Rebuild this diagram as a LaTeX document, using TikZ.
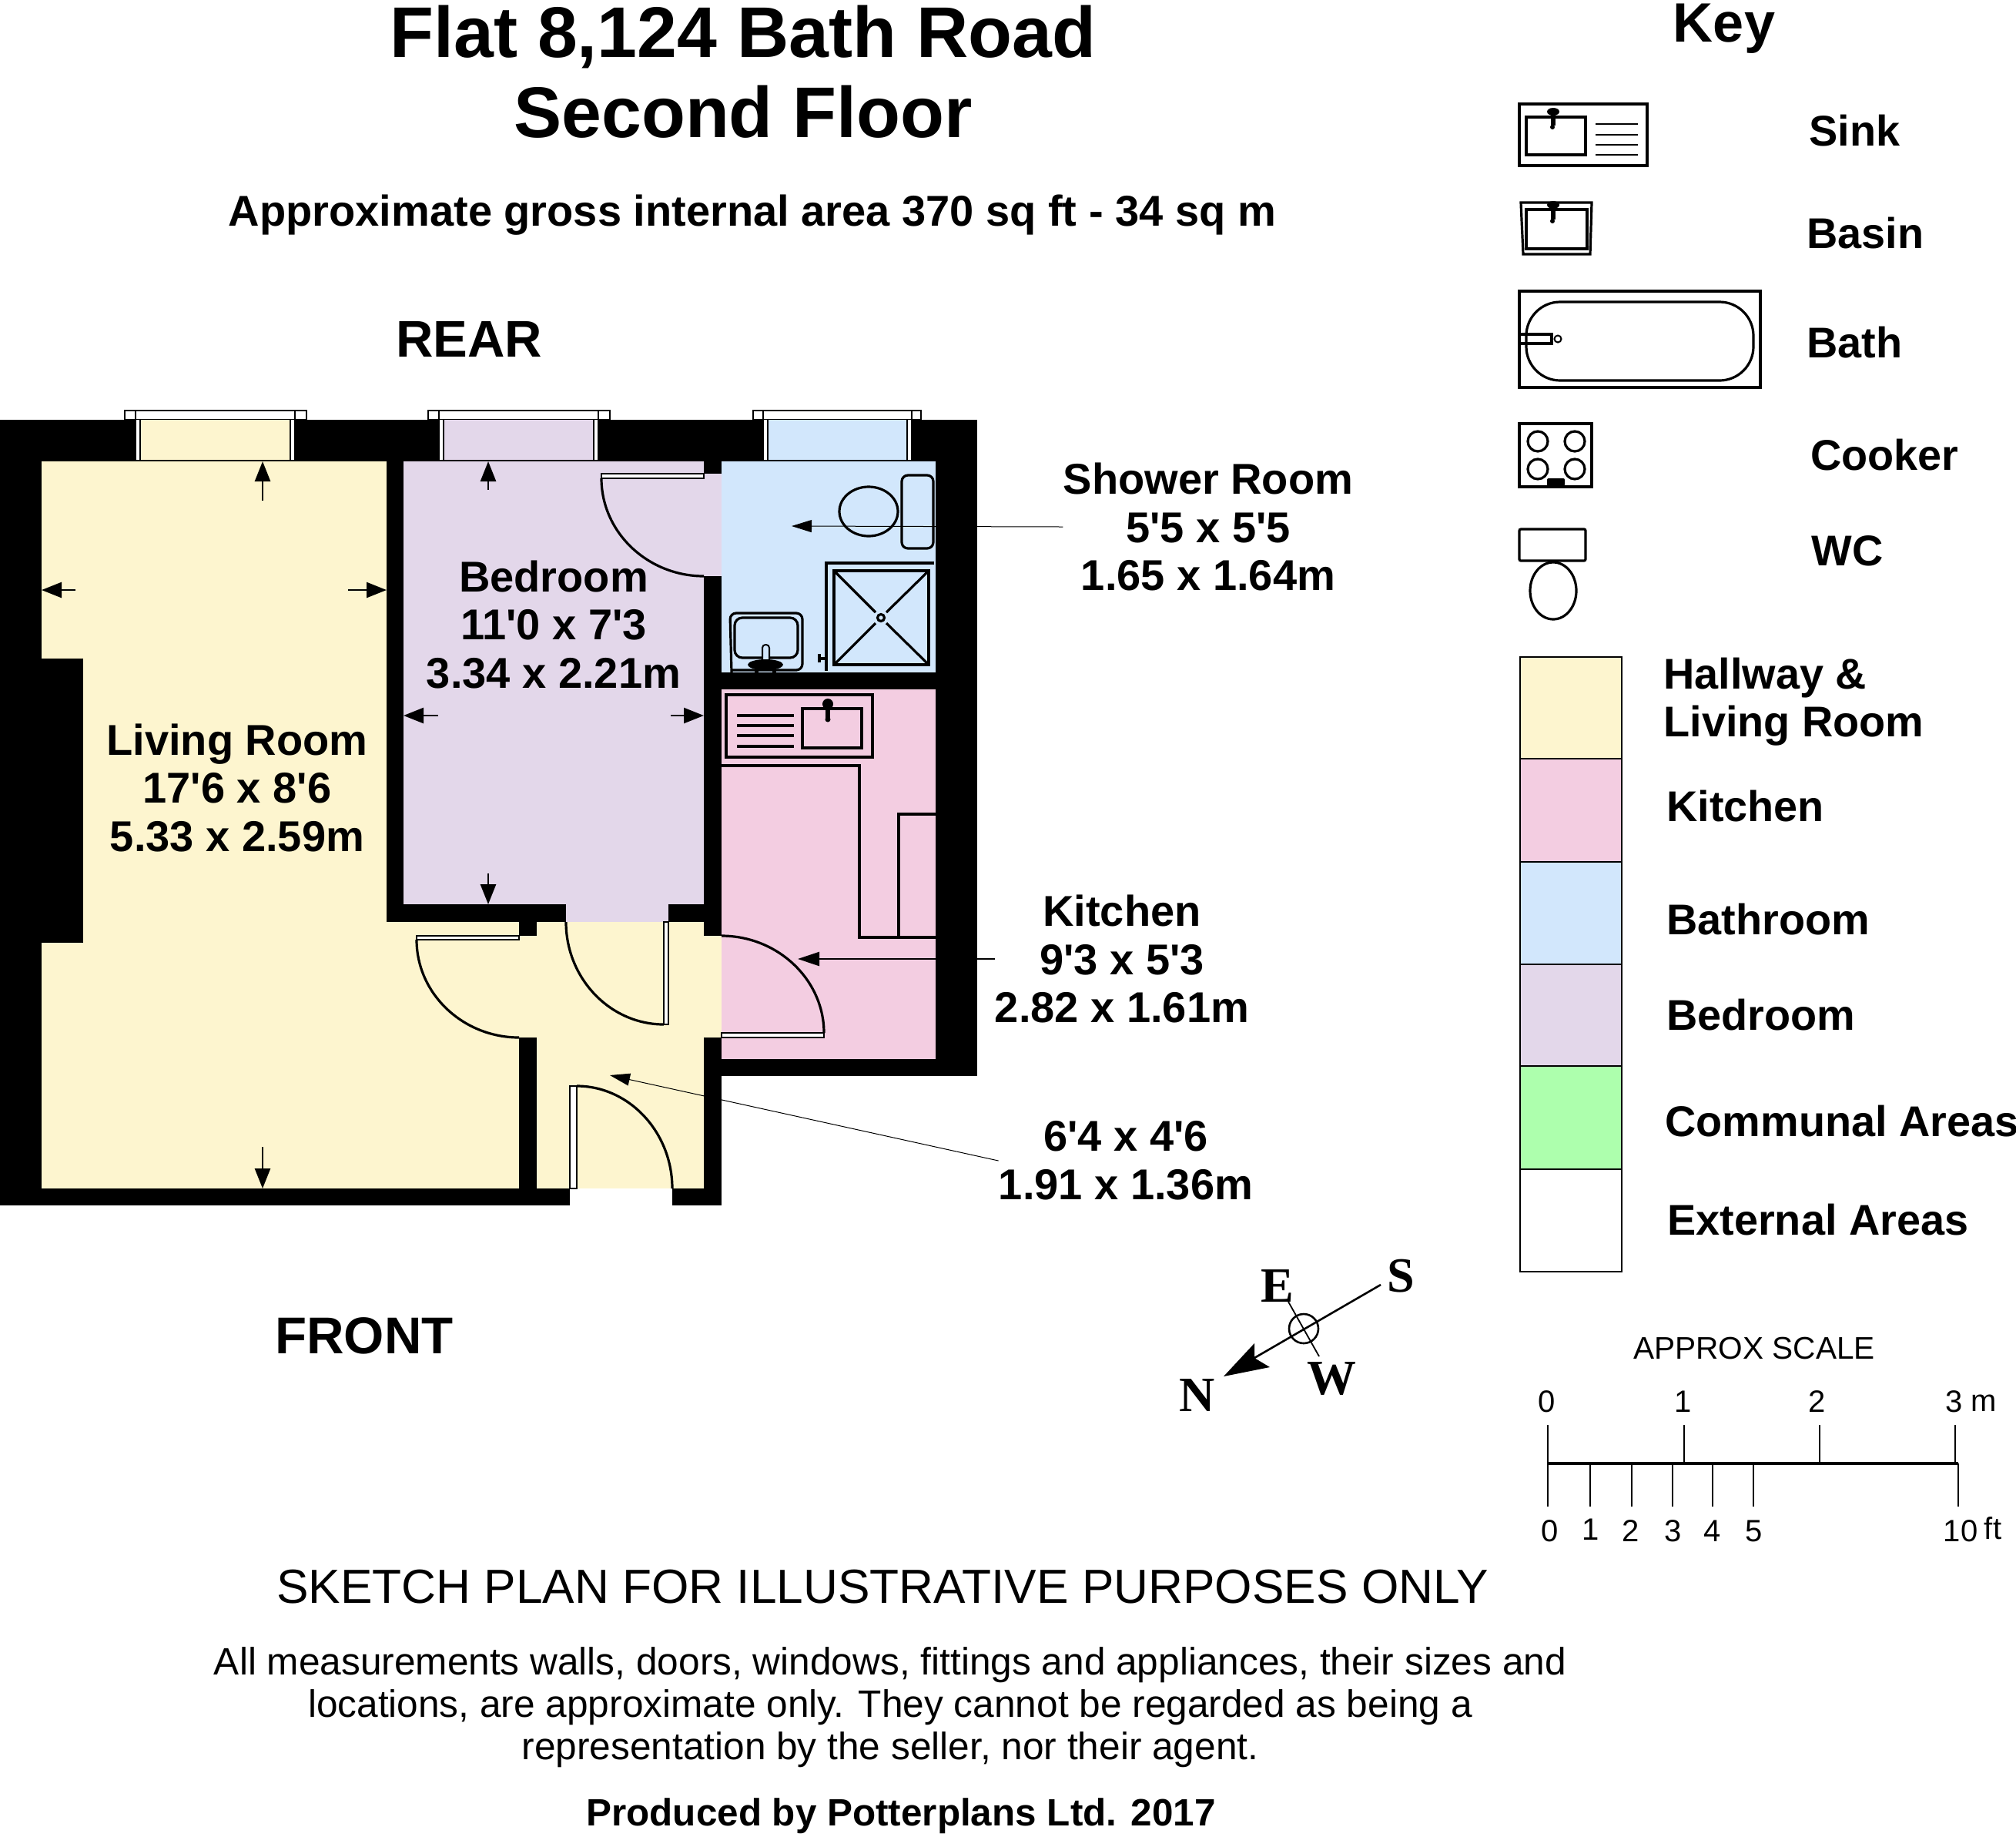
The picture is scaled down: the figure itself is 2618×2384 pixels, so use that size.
\documentclass[tikz,border=0pt]{standalone}
\usepackage{fontspec}
\usetikzlibrary{arrows.meta}
\newfontfamily\hv{Liberation Sans}
\newfontfamily\tm{Liberation Serif}
\newcommand\fz[2]{\hv\fontsize{#1}{#2}\selectfont}
\definecolor{cyellow}{HTML}{FDF5CF}
\definecolor{cpink}{HTML}{F3CDE1}
\definecolor{cblue}{HTML}{D2E7FC}
\definecolor{cpurple}{HTML}{E3D7EA}
\definecolor{cgreen}{HTML}{ADFFAD}
\newcommand\winfig[5]{%
  \fill[white] (#1,533) rectangle (#4,545);
  \draw[fit2] (#1,533) rectangle (#4,545);
  \fill[white] (#2,545) rectangle (#3,597);
  \fill[#5] (#2+6,545) rectangle (#3-6,597);
  \draw[fit2] (#2,533) -- (#2,597) (#2+6,545) -- (#2+6,597) (#3,533) -- (#3,597) (#3-6,545) -- (#3-6,597);
  \draw[fit2] (#2-4,598) -- (#3+4,598);
}
\begin{document}
\begin{tikzpicture}[x=0.5pt,y=-0.5pt,
  wall/.style={fill=black},
  fit2/.style={draw=black,line width=1pt},
  fit3/.style={draw=black,line width=1.6pt},
  door/.style={draw=black,line width=1.6pt},
  leaf/.style={draw=black,fill=white,line width=1.1pt},
  dimarrow/.style={draw=black,line width=1.3pt,-{Triangle[length=13pt,width=10pt]}},
  callthin/.style={draw=black,line width=0.5pt,-{Triangle[length=13pt,width=8pt]}},
  callthick/.style={draw=black,line width=1.3pt,-{Triangle[length=14pt,width=9pt]}},
  roomlabel/.style={font=\fz{28}{31.3}\bfseries,align=center,inner sep=0pt},
  keylabel/.style={font=\fz{27.9}{31.3}\bfseries,align=left,inner sep=0pt,anchor=west},
  swatch/.style={draw=black,line width=1.3pt},
  scalenum/.style={font=\fz{20}{24},inner sep=0pt},
  compass/.style={font=\tm\fontsize{32}{36}\selectfont\bfseries,inner sep=0pt},
  scaleline/.style={draw=black,line width=1.3pt}]
\useasboundingbox (0,0) rectangle (2618,2384);
% ---- floors
\fill[cyellow] (54,599) rectangle (914,1543);
\fill[cyellow] (914,1197) rectangle (937,1347);
\fill[cpurple] (524,599) rectangle (914,1174);
\fill[cpurple] (735,1174) rectangle (868,1197);
\fill[cpurple] (914,615) rectangle (937,748);
\fill[cblue] (937,599) rectangle (1215,873);
\fill[cpink] (937,895) rectangle (1215,1375);
% ---- walls
\fill[wall] (0,545) rectangle (1269,599);
\fill[wall] (0,545) rectangle (54,1565);
\fill[wall] (54,855) rectangle (108,1224);
\fill[wall] (0,1543) rectangle (740,1565);
\fill[wall] (873,1543) rectangle (937,1565);
\fill[wall] (502,599) rectangle (524,1197);
\fill[wall] (502,1174) rectangle (735,1197);
\fill[wall] (868,1174) rectangle (937,1197);
\fill[wall] (674,1197) rectangle (697,1215);
\fill[wall] (914,1197) rectangle (937,1215);
\fill[wall] (914,599) rectangle (937,615);
\fill[wall] (914,748) rectangle (937,1215);
\fill[wall] (937,873) rectangle (1215,895);
\fill[wall] (1215,545) rectangle (1269,1397);
\fill[wall] (914,1375) rectangle (1269,1397);
\fill[wall] (914,1347) rectangle (937,1565);
\fill[wall] (674,1347) rectangle (697,1543);
% ---- windows
\winfig{162}{176}{383}{398}{cyellow}
\winfig{556}{570}{777}{792}{cpurple}
\winfig{978}{991}{1184}{1196}{cblue}
% ---- doors
\draw[leaf] (781,615) rectangle (914,621);
\draw[door] (781,621) .. controls (781,691) and (841,748) .. (914,748);
\draw[leaf] (541,1215) rectangle (674,1220);
\draw[door] (541,1220) .. controls (541,1290) and (601,1347) .. (674,1347);
\draw[leaf] (862,1197) rectangle (868,1330);
\draw[door] (735,1197) .. controls (735,1270) and (792,1330) .. (862,1330);
\draw[leaf] (937,1341) rectangle (1070,1347);
\draw[door] (937,1215) .. controls (1010,1215) and (1070,1272) .. (1070,1341);
\draw[leaf] (740,1410) rectangle (749,1543);
\draw[door] (749,1410) .. controls (817,1410) and (873,1470) .. (873,1543);
% ---- dimension arrows
\coordinate (la1) at (341,650); \coordinate (la2) at (341,599);
\coordinate (lb1) at (98,766);  \coordinate (lb2) at (54,766);
\coordinate (lc1) at (452,766); \coordinate (lc2) at (502,766);
\coordinate (ld1) at (341,1489);\coordinate (ld2) at (341,1543);
\coordinate (ba1) at (634,636); \coordinate (ba2) at (634,599);
\coordinate (bb1) at (569,929); \coordinate (bb2) at (524,929);
\coordinate (bc1) at (871,929); \coordinate (bc2) at (914,929);
\coordinate (bd1) at (634,1134);\coordinate (bd2) at (634,1174);
\foreach \a/\b in {la1/la2,lb1/lb2,lc1/lc2,ld1/ld2,ba1/ba2,bb1/bb2,bc1/bc2,bd1/bd2}
  \draw[dimarrow] (\a) -- (\b);
% ---- shower room fittings
\draw[fit3,rounded corners=4pt] (1171,617) rectangle (1212,712);
\draw[fit3] (1128,664) ellipse [x radius=38,y radius=32];
\draw[fit3] (1073,871) -- (1073,731) -- (1213,731);
\draw[fit3] (1083,741) rectangle (1206,863);
\draw[fit3] (1144,802) circle (4.5);
\draw[fit3] (1083,741) -- (1137,795) (1206,741) -- (1151,795) (1083,863) -- (1137,809) (1206,863) -- (1151,809);
\draw[fit3] (1073,855) -- (1064,855) (1064,849) -- (1064,860);
\draw[fit3,rounded corners=4pt] (950,873) -- (948,796) -- (1042,796) -- (1042,870) -- (950,870);
\draw[fit3,rounded corners=5pt] (954,802) rectangle (1036,854);
\draw[fit2,fill=cblue,rounded corners=2pt] (990,860) -- (990,837) -- (999,837) -- (999,860);
\fill[black] (994,863) ellipse [x radius=23,y radius=7];
\fill[black] (980,863) rectangle (985,875);
\fill[black] (1003,863) rectangle (1008,875);
% ---- kitchen fittings
\draw[fit3] (943,902) rectangle (1133,983);
\draw[fit3] (1042,920) rectangle (1119,971);
\foreach \y in {929,942,955,969} \draw[fit3] (957,\y) -- (1031,\y);
\fill[black] (1075,914) circle (7);
\fill[black] (1072,914) rectangle (1078,932);
\fill[black] (1075,934) circle (3.5);
\draw[fit3] (937,994) -- (1116,994) -- (1116,1217) -- (1215,1217);
\draw[fit3] (1215,1057) -- (1167,1057) -- (1167,1217);
% ---- key symbols
\draw[fit3] (1973,135) rectangle (2139,215);
\draw[fit3] (1982,152) rectangle (2059,201);
\foreach \y in {161,175,188,201} \draw[fit2] (2072,\y) -- (2127,\y);
\fill[black] (2017,145) ellipse [x radius=8,y radius=5];
\fill[black] (2014,145) rectangle (2020,163);
\fill[black] (2016,165) circle (3);
\draw[fit3] (1978,330) -- (1975,263) -- (2067,263) -- (2065,330) -- cycle;
\draw[fit3] (1982,272) rectangle (2061,323);
\fill[black] (2017,266) ellipse [x radius=8,y radius=5];
\fill[black] (2014,266) rectangle (2020,285);
\fill[black] (2016,287) circle (3);
\draw[fit3] (1973,378) rectangle (2286,503);
\draw[fit3,rounded corners=22pt] (1982,392) rectangle (2277,494);
\draw[fit3] (1975,434) -- (2015,434) -- (2015,446) -- (1975,446);
\draw[fit2] (2023,440) circle (4.5);
\draw[fit3] (1973,550) rectangle (2067,632);
\foreach \x/\y in {1997/573,2045/573,1997/609,2045/609} \draw[fit3] (\x,\y) circle (13);
\fill[black,rounded corners=1pt] (2009,621) rectangle (2032,631);
\draw[fit3,rounded corners=1pt] (1973,687) rectangle (2059,728);
\draw[fit3] (2017,767) ellipse [x radius=30,y radius=37];
% ---- colour key
\draw[swatch,fill=cyellow] (1974,853) rectangle (2106,985);
\draw[swatch,fill=cpink] (1974,985) rectangle (2106,1119);
\draw[swatch,fill=cblue] (1974,1119) rectangle (2106,1252);
\draw[swatch,fill=cpurple] (1974,1252) rectangle (2106,1384);
\draw[swatch,fill=cgreen] (1974,1384) rectangle (2106,1518);
\draw[swatch,fill=white] (1974,1518) rectangle (2106,1651);
% ---- scale bar
\draw[draw=black,line width=2.2pt] (2010,1900) -- (2543,1900);
\foreach \x in {2010,2187,2363,2539} \draw[scaleline] (\x,1850) -- (\x,1900);
\foreach \x in {2010,2065,2119,2172,2224,2277,2543} \draw[scaleline] (\x,1900) -- (\x,1956);
\node[scalenum] (up0) at (2009,1820) {0};
\node[scalenum] (up1) at (2186,1820) {1};
\node[scalenum] (up2) at (2360,1820) {2};
\node[scalenum] (up3) at (2538,1820) {3};
\node[scalenum] (upm) at (2576,1822) {m};
\node[scalenum] (lo0) at (2013,1988) {0};
\node[scalenum] (lo1) at (2066,1986) {1};
\node[scalenum] (lo2) at (2118,1988) {2};
\node[scalenum] (lo3) at (2173,1988) {3};
\node[scalenum] (lo4) at (2224,1988) {4};
\node[scalenum] (lo5) at (2278,1988) {5};
\node[scalenum] (lo10) at (2546,1988) {10};
\node[scalenum] (loft) at (2588,1984) {ft};
\node[font=\fz{20.3}{24},inner sep=0pt] (approx) at (2278,1750) {APPROX SCALE};
% ---- compass
\coordinate (cs) at (1793,1668);
\coordinate (cn) at (1629,1763);
\coordinate (ce) at (1673,1690);
\coordinate (cw) at (1713,1761);
\draw[draw=black,line width=1.3pt] (cs) -- (cn);
\draw[draw=black,line width=0.9pt] (ce) -- (cw);
\draw[draw=black,line width=1.3pt] (1693,1725) circle (19);
\fill[black] (1589,1787) -- (1629,1744) -- (1629,1763) -- (1649,1775) -- cycle;
\node[compass] (lS) at (1819,1657) {S};
\node[compass] (lE) at (1659,1670) {E};
\node[compass] (lN) at (1555,1812) {N};
\node[compass] (lW) at (1729,1790) {W};
% ---- texts
\node[font=\fz{46.6}{51.8}\bfseries,align=center,inner sep=0pt] (title) at (965,93) {Flat 8,124 Bath Road\\Second Floor};
\node[font=\fz{28}{32}\bfseries,inner sep=0pt] (area) at (977,279) {Approximate gross internal area 370 sq ft - 34 sq m};
\node[font=\fz{33.5}{38}\bfseries,inner sep=0pt] (rear) at (609,440) {REAR};
\node[font=\fz{33.6}{38}\bfseries,inner sep=0pt] (front) at (473,1734) {FRONT};
\node[font=\fz{36}{40}\bfseries,inner sep=0pt] (key) at (2239,37) {Key};
\node[roomlabel] (living) at (308,1023) {Living Room\\17'6 x 8'6\\5.33 x 2.59m};
\node[roomlabel] (bedroom) at (719,811) {Bedroom\\11'0 x 7'3\\3.34 x 2.21m};
\node[roomlabel] (shower) at (1569,684) {Shower Room\\5'5 x 5'5\\1.65 x 1.64m};
\node[roomlabel] (kitchen) at (1457,1245) {Kitchen\\9'3 x 5'3\\2.82 x 1.61m};
\node[roomlabel] (hall) at (1462,1507) {6'4 x 4'6\\1.91 x 1.36m};
\coordinate (tipshower) at (1028,683);
\coordinate (tipkitchen) at (1036,1245);
\coordinate (tiphall) at (792,1396);
\draw[callthin] (shower.west) -- (tipshower);
\draw[callthick] (kitchen.west) -- (tipkitchen);
\draw[callthin] (hall.west) -- (tiphall);
\node[keylabel] (ksink) at (2349,170) {Sink};
\node[keylabel] (kbasin) at (2346,303) {Basin};
\node[keylabel] (kbath) at (2346,445) {Bath};
\node[keylabel] (kcooker) at (2351,591) {Cooker};
\node[keylabel] (kwc) at (2352,715) {WC};
\node[keylabel] (khall) at (2160,911) {Hallway \&\\Living Room};
\node[keylabel] (kkit) at (2164,1047) {Kitchen};
\node[keylabel] (kbathr) at (2164,1194) {Bathroom};
\node[keylabel] (kbed) at (2164,1318) {Bedroom};
\node[keylabel] (kcomm) at (2162,1456) {Communal Areas};
\node[keylabel] (kext) at (2165,1584) {External Areas};
\node[font=\fz{31.1}{36},inner sep=0pt] (sketch) at (1146,2060) {SKETCH PLAN FOR ILLUSTRATIVE PURPOSES ONLY};
\node[font=\fz{24.8}{27.5},align=center,inner sep=0pt] (para) at (1156,2217) {All measurements walls, doors, windows, fittings and appliances, their sizes and\\locations, are approximate only. They cannot be regarded as being a\\representation by the seller, nor their agent.};
\node[font=\fz{24.7}{28}\bfseries,inner sep=0pt] (prod) at (1170,2358) {Produced by Potterplans Ltd. 2017};
\end{tikzpicture}
\end{document}
